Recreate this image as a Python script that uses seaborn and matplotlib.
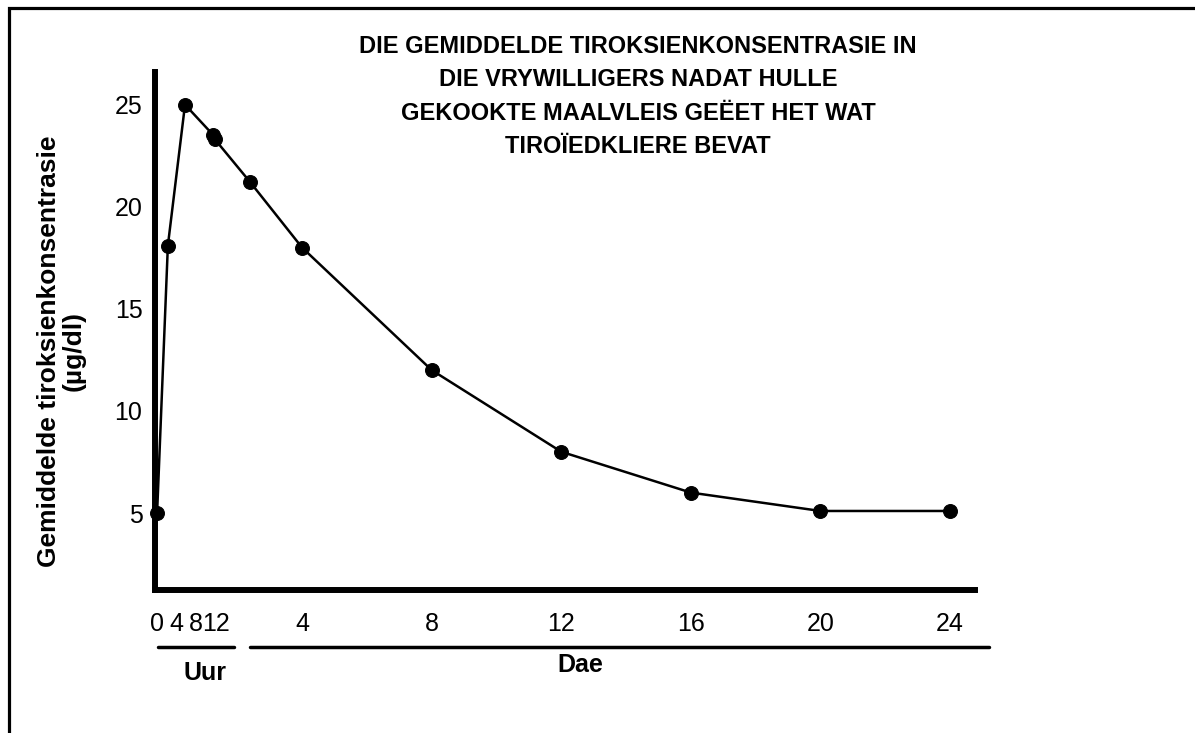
import pandas as pd
import matplotlib
matplotlib.use("Agg")
import matplotlib.pyplot as plt
from matplotlib import font_manager
from matplotlib.patches import Rectangle
import seaborn as sns

# Waardes afgelees van die oorspronklike grafiek
hour_points = [0, 2.2, 5.7, 11.5, 11.8]
hour_values = [5.0, 18.1, 25.0, 23.5, 23.3]
day_points = [2.4, 4, 8, 12, 16, 20, 24]
day_values = [21.2, 18.0, 12.0, 8.0, 6.0, 5.1, 5.1]

hour_ticks = [0, 4, 8, 12]
day_ticks = [4, 8, 12, 16, 20, 24]
y_ticks = [5, 10, 15, 20, 25]

title = ("DIE GEMIDDELDE TIROKSIENKONSENTRASIE IN\nDIE VRYWILLIGERS NADAT HULLE\n"
         "GEKOOKTE MAALVLEIS GEËET HET WAT\nTIROÏEDKLIERE BEVAT")
y_label = "Gemiddelde tiroksienkonsentrasie\n(µg/dl)"

# uur-skaal is saamgedruk voor die dae-skaal
HOUR_ORIGIN = -0.475
HOUR_SCALE = 0.1512


def hour_pos(h):
    return HOUR_ORIGIN + h * HOUR_SCALE


def has_font(name):
    try:
        font_manager.findfont(name, fallback_to_default=False)
        return True
    except Exception:
        return False


sns.set_style("white")
plt.rcParams['font.family'] = ['Liberation Sans', 'DejaVu Sans']
for key in ['text.color', 'axes.labelcolor', 'xtick.color', 'ytick.color']:
    plt.rcParams[key] = 'black'
narrow = 'Liberation Sans Narrow' if has_font('Liberation Sans Narrow') else 'Liberation Sans'

df = pd.DataFrame({
    'pos': [hour_pos(h) for h in hour_points] + day_points,
    'value': hour_values + day_values,
})

fig = plt.figure(figsize=(11.95, 7.33), dpi=100)
ax = fig.add_axes([0.1297, 0.1951, 0.6862, 0.7067])

sns.lineplot(data=df, x='pos', y='value', color='black', marker='o',
             markersize=10, linewidth=1.8, markeredgecolor='black', ax=ax)
for line in ax.lines:
    line.set_clip_on(False)

ax.set_xlim(-0.54, 24.77)
ax.set_ylim(1.23, 26.6)

xticks = [hour_pos(h) for h in hour_ticks] + day_ticks
ax.set_xticks(xticks)
ax.set_xticklabels([str(h) for h in hour_ticks] + [str(d) for d in day_ticks], fontsize=18)
ax.set_yticks(y_ticks)
ax.set_yticklabels([str(v) for v in y_ticks], fontsize=18)
ax.tick_params(axis='x', length=8, width=3.5, direction='out', pad=8)
ax.tick_params(axis='y', length=6, width=3.5, direction='out', pad=3)

for side in ['top', 'right']:
    ax.spines[side].set_visible(False)
for side in ['left', 'bottom']:
    ax.spines[side].set_linewidth(4.3)
    ax.spines[side].set_color('black')

ax.set_xlabel('')
ax.set_ylabel(y_label, fontsize=19, fontweight='bold', linespacing=1.0)
ax.yaxis.set_label_coords(-0.085, 0.461)

# groeperingslyne onder die x-as
trans = ax.get_xaxis_transform()
ax.plot([-0.44, 1.9], [-0.110, -0.110], color='black', lw=2.5, transform=trans, clip_on=False)
ax.plot([2.4, 25.2], [-0.110, -0.110], color='black', lw=2.5, transform=trans, clip_on=False)
ax.text(1.0, -0.160, 'Uur', transform=trans, ha='center', va='center',
        fontsize=18, fontweight='bold')
ax.text(12.6, -0.145, 'Dae', transform=trans, ha='center', va='center',
        fontsize=18, fontweight='bold')

fig.text(0.534, 1 - 35 / 733, title, ha='center', va='top', multialignment='center',
         fontsize=22 if narrow != 'Liberation Sans' else 17, fontweight='bold',
         family=[narrow, 'DejaVu Sans'], linespacing=1.58)

fig.patches.append(Rectangle((9 / 1195, -0.1), 1.2, 1.1 - 8 / 733, transform=fig.transFigure,
                             fill=False, edgecolor='black', linewidth=2.3))

fig.savefig('out.png', dpi=100, facecolor='white')
